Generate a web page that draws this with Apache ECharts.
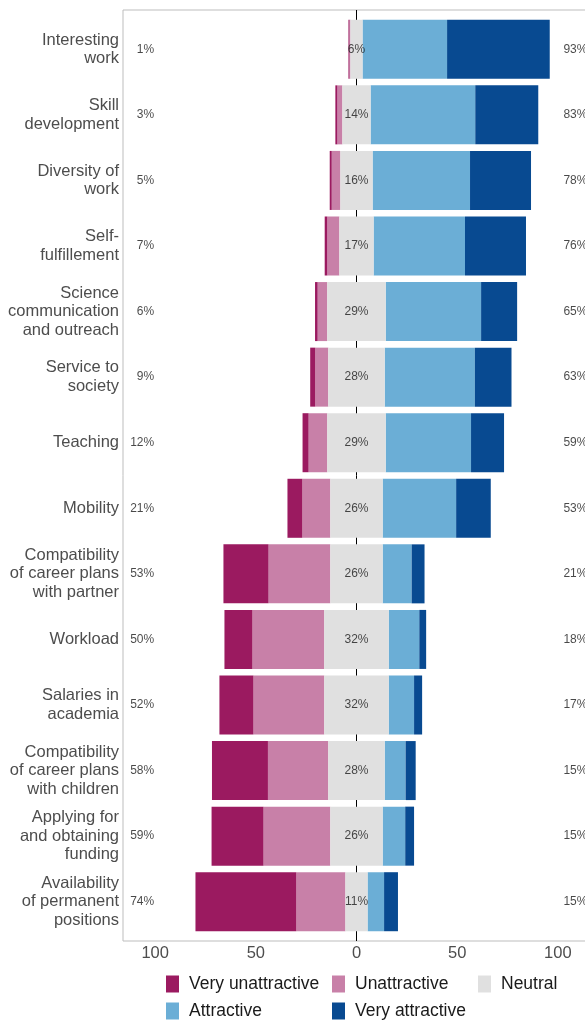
<!DOCTYPE html>
<html>
<head>
<meta charset="utf-8">
<script src="https://cdn.jsdelivr.net/npm/echarts@6/dist/echarts.min.js"></script>
<style>
  html, body { margin: 0; padding: 0; background: #fff; }
  #chart { width: 585px; height: 1021px; }
</style>
</head>
<body>
<div id="chart"></div>
<script>
// categories, top to bottom
var categories = [
  "Interesting\nwork", "Skill\ndevelopment", "Diversity of\nwork", "Self-\nfulfillement",
  "Science\ncommunication\nand outreach", "Service to\nsociety", "Teaching", "Mobility",
  "Compatibility\nof career plans\nwith partner", "Workload", "Salaries in\nacademia",
  "Compatibility\nof career plans\nwith children", "Applying for\nand obtaining\nfunding",
  "Availability\nof permanent\npositions"
];
var veryUnattractive = [0.5, 1, 1, 1.3, 1.3, 2.5, 3, 7.4, 22.4, 13.9, 16.9, 27.8, 25.8, 50.1];
var unattractive = [0.5, 2.5, 4.3, 6, 4.8, 6.5, 9.3, 13.9, 30.7, 35.7, 35.2, 30, 33.2, 24.4];
var neutral = [6, 14, 16, 17, 29, 28, 29, 26, 26, 32, 32, 28, 26, 11];
var attractive = [42, 52, 48.4, 45.4, 47.4, 44.8, 42.4, 36.5, 14.4, 15.2, 12.6, 10.4, 11.2, 8.2];
var veryAttractive = [51, 31.3, 30.3, 30.3, 17.9, 18.2, 16.4, 17.2, 6.4, 3.4, 4, 5, 4.4, 6.9];
// printed percentages
var lowPct = [1, 3, 5, 7, 6, 9, 12, 21, 53, 50, 52, 58, 59, 74];
var highPct = [93, 83, 78, 76, 65, 63, 59, 53, 21, 18, 17, 15, 15, 15];
var tickValues = [-100, -50, 0, 50, 100];

var colors = {
  vu: "#9B1A60",
  u: "#C880A8",
  n: "#E0E0E0",
  a: "#6BAED6",
  va: "#084A91"
};
var font = "'Liberation Sans', Arial, sans-serif";

var chart = echarts.init(document.getElementById("chart"));

function neg(arr) {
  return arr.map(function (v) { return -v; });
}
function barSeries(name, data, color, stack) {
  return {
    name: name,
    type: "bar",
    xAxisIndex: 1,
    yAxisIndex: 1,
    stack: stack || "total",
    stackStrategy: stack === "neutral" ? "all" : "samesign",
    barWidth: "90%",
    barGap: "-100%",
    itemStyle: { color: color },
    emphasis: { disabled: true },
    silent: !name,
    z: 3,
    data: data
  };
}
function labelSeries(x, texts, align) {
  return {
    type: "scatter",
    xAxisIndex: 1,
    yAxisIndex: 1,
    symbolSize: 0,
    silent: true,
    z: 5,
    label: {
      show: true,
      position: "inside",
      align: align,
      color: "#1a1a1a",
      fontSize: 12,
      fontFamily: font,
      formatter: function (p) { return texts[p.dataIndex]; }
    },
    data: categories.map(function (c) { return [x, c]; })
  };
}
function legendItem(name, left, top) {
  return {
    data: [name],
    left: left,
    top: top,
    padding: 0,
    icon: "rect",
    itemWidth: 13,
    itemHeight: 17,
    textStyle: { color: "#1a1a1a", fontSize: 17.5, fontFamily: font, padding: [0, 0, 0, 5] }
  };
}

var pct = function (v) { return v + "%"; };
var halfNeutral = neutral.map(function (v) { return v / 2; });

chart.setOption({
  animation: false,
  grid: [
    { left: 123, top: 10, width: 467, height: 931, show: true, borderColor: "#bdbdbd", borderWidth: 1, outerBoundsMode: "none" },
    { left: 123, top: 16.5, width: 467, height: 918, outerBoundsMode: "none" }
  ],
  legend: [
    legendItem("Very unattractive", 166, 975),
    legendItem("Unattractive", 332, 975),
    legendItem("Neutral", 478, 975),
    legendItem("Attractive", 166, 1002),
    legendItem("Very attractive", 332, 1002)
  ],
  xAxis: [
    {
      type: "value", gridIndex: 0, min: -116, max: 116,
      axisLine: { show: false },
      axisTick: { show: false },
      splitLine: { show: false },
      axisLabel: {
        customValues: tickValues,
        color: "#4d4d4d", fontSize: 16.5, fontFamily: font, margin: 4,
        formatter: function (v) { return Math.abs(v); }
      }
    },
    {
      type: "value", gridIndex: 1, min: -116, max: 116, show: false
    }
  ],
  yAxis: [
    { type: "value", gridIndex: 0, min: 0, max: 1, show: false },
    {
      type: "category", gridIndex: 1, data: categories, inverse: true,
      axisLine: { show: false },
      axisTick: { show: false },
      axisLabel: {
        color: "#4d4d4d", fontSize: 16.5, fontFamily: font, lineHeight: 18.5,
        margin: 4, align: "right"
      }
    }
  ],
  series: [
    // outer segments start at the edge of the neutral block (transparent offsets)
    barSeries(null, neg(halfNeutral), "transparent"),
    barSeries("Unattractive", neg(unattractive), colors.u),
    barSeries("Very unattractive", neg(veryUnattractive), colors.vu),
    barSeries(null, halfNeutral, "transparent"),
    barSeries("Attractive", attractive, colors.a),
    barSeries("Very attractive", veryAttractive, colors.va),
    // neutral drawn as one block centred on 0
    barSeries(null, neg(halfNeutral), "transparent", "neutral"),
    barSeries("Neutral", neutral, colors.n, "neutral"),
    {
      type: "line",
      xAxisIndex: 0,
      yAxisIndex: 0,
      data: [[0, 0], [0, 1]],
      symbol: "none",
      silent: true,
      z: 1,
      lineStyle: { color: "#000", width: 1 }
    },
    labelSeries(-100.5, lowPct.map(pct), "right"),
    labelSeries(0, neutral.map(pct), "center"),
    labelSeries(102.8, highPct.map(pct), "left")
  ]
});
</script>
</body>
</html>
